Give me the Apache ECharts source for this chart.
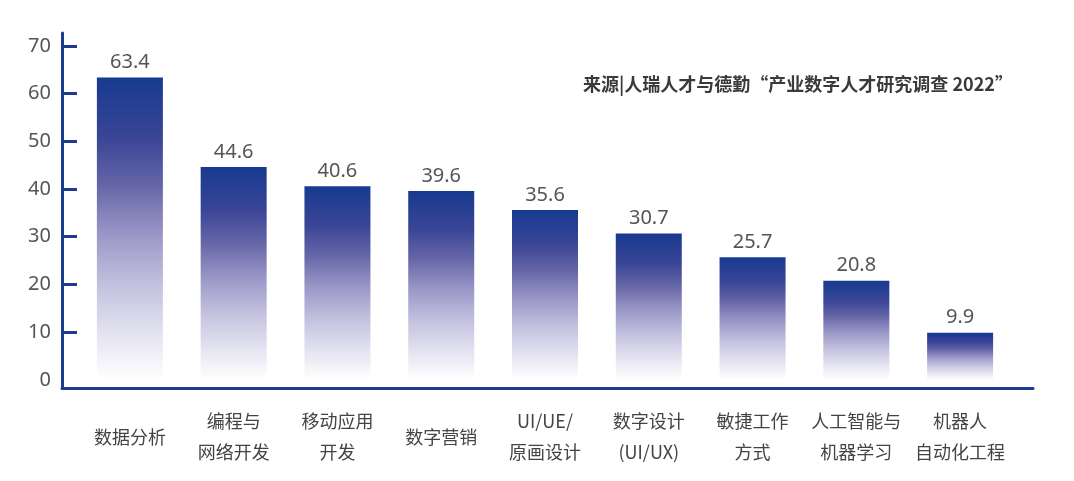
<!DOCTYPE html>
<html>
<head>
    <meta charset="utf-8">
    <title>digital talent skills</title>
    <script src="https://cdn.jsdelivr.net/npm/echarts@6.0.0/dist/echarts.min.js"></script>
    <style>
        html, body { margin: 0; padding: 0; background: #fff; }
        #chart { width: 1074px; height: 481px; }
    </style>
</head>
<body>
<div id="chart"></div>
<script>
    // 数据
    var categories = ['数据分析', '编程与\n网络开发', '移动应用\n开发', '数字营销', 'UI/UE/\n原画设计',
        '数字设计\n(UI/UX)', '敏捷工作\n方式', '人工智能与\n机器学习', '机器人\n自动化工程'];
    var values = [63.4, 44.6, 40.6, 39.6, 35.6, 30.7, 25.7, 20.8, 9.9];
    var yTickLabels = [0, 10, 20, 30, 40, 50, 60, 70];
    var yTickMarks = [10, 20, 30, 40, 50, 60, 70];
    var sourceText = '来源|人瑞人才与德勤“产业数字人才研究调查 2022”';

    var navy = '#1b3a92';
    var numFont = "'Noto Sans', sans-serif";
    var cjkFont = "'Noto Sans CJK SC', sans-serif";

    var chart = echarts.init(document.getElementById('chart'));

    var option = {
        animation: false,
        title: {
            text: sourceText,
            left: 578,
            top: 70,
            textStyle: { fontFamily: cjkFont, fontSize: 18, fontWeight: 'bold', color: '#3a3a3a' }
        },
        grid: [
            // 柱子所在的网格
            { left: 78, right: 62, top: 33, bottom: 101 },
            // 坐标轴线所在的网格
            { left: 62, right: 41, top: 33, bottom: 93 }
        ],
        xAxis: [
            {
                type: 'category',
                gridIndex: 0,
                data: categories,
                axisLine: { show: false },
                axisTick: { show: false },
                axisLabel: {
                    interval: 0,
                    margin: 57,
                    verticalAlign: 'middle',
                    lineHeight: 31,
                    fontSize: 18,
                    fontFamily: cjkFont,
                    color: '#444'
                }
            },
            {
                type: 'value',
                gridIndex: 1,
                min: 0,
                max: 1,
                axisLine: { show: true, onZero: false, lineStyle: { color: navy, width: 3 } },
                axisTick: { show: false },
                axisLabel: { show: false },
                splitLine: { show: false }
            }
        ],
        yAxis: [
            {
                type: 'value',
                gridIndex: 0,
                min: 0,
                max: 72.7,
                show: false,
                splitLine: { show: false }
            },
            {
                type: 'value',
                gridIndex: 1,
                min: -1.7,
                max: 72.7,
                axisLine: { show: true, onZero: false, lineStyle: { color: navy, width: 3 } },
                axisTick: {
                    show: true,
                    inside: true,
                    length: 15,
                    customValues: yTickMarks,
                    lineStyle: { color: navy, width: 3 }
                },
                axisLabel: {
                    customValues: yTickLabels,
                    margin: 11,
                    fontSize: 20,
                    fontFamily: numFont,
                    color: '#555'
                },
                splitLine: { show: false }
            }
        ],
        series: [{
            type: 'bar',
            xAxisIndex: 0,
            yAxisIndex: 0,
            data: values,
            barWidth: 66,
            itemStyle: {
                color: new echarts.graphic.LinearGradient(0, 0, 0, 1, [
                    { offset: 0, color: '#163a90' },
                    { offset: 0.2, color: '#3a4596' },
                    { offset: 0.35, color: '#6364a6' },
                    { offset: 0.52, color: '#9a97c7' },
                    { offset: 0.69, color: '#c4c2df' },
                    { offset: 0.86, color: '#e6e5f2' },
                    { offset: 1, color: '#ffffff' }
                ])
            },
            label: {
                show: true,
                position: 'top',
                distance: 5,
                fontSize: 20,
                fontFamily: numFont,
                color: '#555'
            }
        }]
    };

    chart.setOption(option);
</script>
</body>
</html>
